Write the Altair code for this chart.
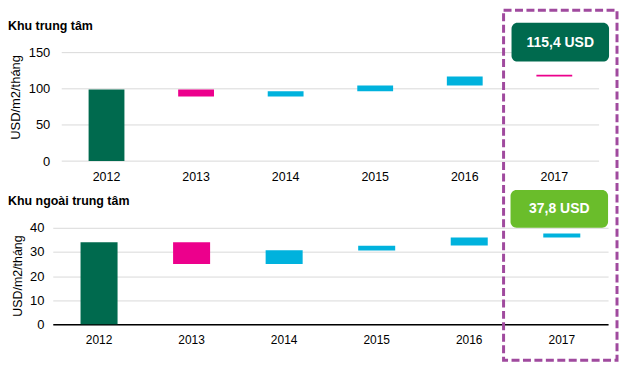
import altair as alt
import pandas as pd

FONT = "Liberation Sans"

years = ["2012", "2013", "2014", "2015", "2016", "2017"]

# Khu trung tâm (central area)
center_low = [0, 89.5, 89.5, 96.7, 104.5, 117.0]
center_high = [99, 99, 96.6, 104.5, 117.0, 119.6]
center_kind = ["base", "down", "up", "up", "up", "down"]
center_ticks = [0, 50, 100, 150]
center_title = "Khu trung tâm"
center_label = "115,4 USD"

# Khu ngoài trung tâm (outside central area)
outer_low = [0, 25, 25, 30.6, 32.7, 36.0]
outer_high = [34, 34, 30.7, 32.6, 36.0, 37.6]
outer_kind = ["base", "down", "up", "up", "up", "up"]
outer_ticks = [0, 10, 20, 30, 40]
outer_title = "Khu ngoài trung tâm"
outer_label = "37,8 USD"

y_title = "USD/m2/tháng"

kinds = ["base", "down", "up"]
kind_colors = ["#006A4E", "#EC008C", "#00B2DD"]

color = alt.Color("kind:N", scale=alt.Scale(domain=kinds, range=kind_colors), legend=None)

df_c = pd.DataFrame({"year": years, "low": center_low, "high": center_high, "kind": center_kind})
df_o = pd.DataFrame({"year": years, "low": outer_low, "high": outer_high, "kind": outer_kind})

# ---------- top panel ----------
xt = alt.X("year:N", sort=years,
           scale=alt.Scale(range=[9, 549], paddingInner=0.6, paddingOuter=0.3),
           axis=alt.Axis(title=None, labelAngle=0, domain=False, ticks=False,
                         labelPadding=9, labelFontSize=12.5))
yt_scale = alt.Scale(domain=[0, 150], nice=False)
yt_axis = alt.Axis(values=center_ticks, grid=False, domain=False, ticks=False,
                   labelPadding=3, labelFontSize=13, title=y_title,
                   titleFontSize=13, titleFontWeight="normal",
                   titleX=-30, titleY=44.5)

grid_top = alt.Chart(pd.DataFrame({"v": center_ticks})).mark_rule(
    color="#D9D9D9", strokeWidth=1).encode(
    y=alt.Y("v:Q", scale=yt_scale, axis=yt_axis, title=y_title),
    x=alt.value(9), x2=alt.value(549))

bars_top = alt.Chart(df_c).mark_bar().encode(
    x=xt,
    y=alt.Y("low:Q", scale=yt_scale, axis=yt_axis, title=y_title),
    y2="high:Q",
    color=color)

title_top = alt.Chart(pd.DataFrame({"t": [center_title]})).mark_text(
    align="left", baseline="alphabetic", fontWeight="bold", fontSize=12.5,
    font=FONT, color="black").encode(
    text="t:N", x=alt.value(-45), y=alt.value(-22.5))

box_top = alt.Chart(pd.DataFrame({"t": [center_label]})).mark_rect(
    cornerRadius=6, color="#006A4E").encode(
    x=alt.value(461), x2=alt.value(559), y=alt.value(-30), y2=alt.value(9))
label_top = alt.Chart(pd.DataFrame({"t": [center_label]})).mark_text(
    color="white", fontWeight="bold", fontSize=14, font=FONT,
    align="center", baseline="middle").encode(
    text="t:N", x=alt.value(510), y=alt.value(-10))

top = alt.layer(grid_top, bars_top, title_top, box_top, label_top).properties(
    width=549, height=109)

# ---------- bottom panel ----------
xb = alt.X("year:N", sort=years,
           scale=alt.Scale(paddingInner=0.6, paddingOuter=0.3),
           axis=alt.Axis(title=None, labelAngle=0, domain=True, domainColor="black",
                         domainWidth=1.5, ticks=False, labelPadding=10, labelFontSize=12))
yb_scale = alt.Scale(domain=[0, 40], nice=False)

bars_bot = alt.Chart(df_o).mark_bar().encode(
    x=xb,
    y=alt.Y("low:Q", scale=yb_scale,
            axis=alt.Axis(values=outer_ticks, grid=True, gridColor="#D9D9D9",
                          domain=False, ticks=False, labelPadding=9, labelFontSize=13,
                          title=y_title, titleFontSize=12.5, titleFontWeight="normal",
                          titleX=-28, titleY=48)),
    y2="high:Q",
    color=color)

title_bot = alt.Chart(pd.DataFrame({"t": [outer_title]})).mark_text(
    align="left", baseline="alphabetic", fontWeight="bold", fontSize=12.5,
    font=FONT, color="black").encode(
    text="t:N", x=alt.value(-45), y=alt.value(-23))

box_bot = alt.Chart(pd.DataFrame({"t": [outer_label]})).mark_rect(
    cornerRadius=6, color="#6ABD2B").encode(
    x=alt.value(460), x2=alt.value(558), y=alt.value(-38), y2=alt.value(0))
label_bot = alt.Chart(pd.DataFrame({"t": [outer_label]})).mark_text(
    color="white", fontWeight="bold", fontSize=14, font=FONT,
    align="center", baseline="middle").encode(
    text="t:N", x=alt.value(509), y=alt.value(-19))

frame = alt.Chart(pd.DataFrame({"t": ["2017"]})).mark_rect(
    filled=False, stroke="#A04A9E", strokeWidth=3, strokeDash=[8, 3.5]).encode(
    x=alt.value(453), x2=alt.value(567), y=alt.value(-218.5), y2=alt.value(133))

bottom = alt.layer(bars_bot, title_bot, box_bot, label_bot, frame).properties(
    width=558, height=97)

chart = alt.vconcat(top, bottom, spacing=67, bounds="flush").properties(
    padding={"left": 0, "top": 0, "right": 0, "bottom": 0},
    background="white"
).configure_view(stroke=None).configure_axis(
    labelFont=FONT, titleFont=FONT, labelColor="black", titleColor="black"
)

chart.save("out.html", embed_options={"renderer": "svg", "actions": False})
